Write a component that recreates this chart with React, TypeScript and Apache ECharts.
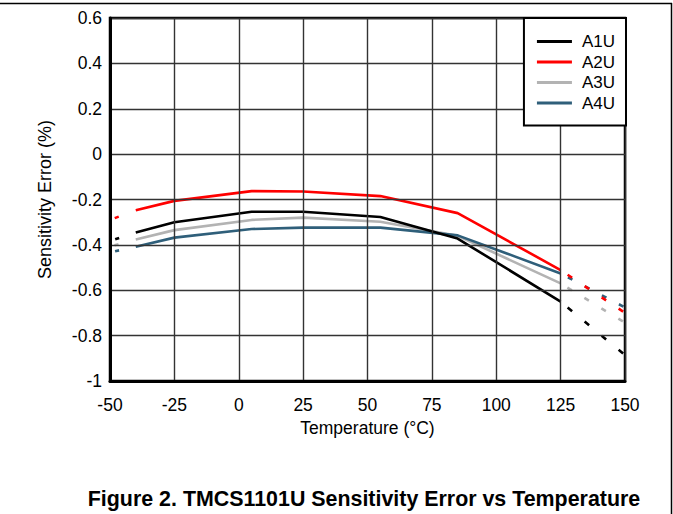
import React, { useEffect, useRef } from "react";
import * as echarts from "echarts";

const seriesNames = ["A1U", "A2U", "A3U", "A4U"];
const seriesColors = ["#000000", "#ff0000", "#b3b3b3", "#2f5f7a"];
const temps = [-40, -25, 5, 25, 55, 85, 125];
const a1u = [-0.345, -0.3, -0.254, -0.254, -0.277, -0.372, -0.65];
const a2u = [-0.247, -0.206, -0.163, -0.165, -0.185, -0.26, -0.511];
const a3u = [-0.376, -0.335, -0.29, -0.28, -0.298, -0.36, -0.57];
const a4u = [-0.408, -0.368, -0.33, -0.324, -0.324, -0.358, -0.526];
const tempsLow = [-50, -40];
const tempsHigh = [125, 150];
const lowValues = [
  [-0.383, -0.345],
  [-0.29, -0.247],
  [-0.407, -0.376],
  [-0.433, -0.408],
];
const highValues = [
  [-0.65, -0.886],
  [-0.511, -0.7],
  [-0.57, -0.743],
  [-0.526, -0.676],
];
const xTicks = { min: -50, max: 150, interval: 25 };
const yTicks = { min: -1, max: 0.6, interval: 0.2 };
const xTitle = "Temperature (°C)";
const yTitle = "Sensitivity Error (%)";
const caption = "Figure 2. TMCS1101U Sensitivity Error vs Temperature";

const FONT = '"Liberation Sans", Arial, sans-serif';

export default function App() {
  const ref = useRef<HTMLDivElement>(null);
  useEffect(() => {
    if (!ref.current) return;
    const chart = echarts.init(ref.current, undefined, { renderer: "svg" });
    const mainValues = [a1u, a2u, a3u, a4u];
    const zs = [5, 4, 2, 3];
    const series: any[] = [];
    seriesNames.forEach((name, i) => {
      series.push({
        name,
        type: "line",
        symbol: "none",
        z: zs[i],
        data: temps.map((t, k) => [t, mainValues[i][k]]),
        lineStyle: { color: seriesColors[i], width: 2.6 },
        itemStyle: { color: seriesColors[i] },
      });
    });
    seriesNames.forEach((name, i) => {
      series.push({
        id: "low" + i,
        name: name + "_low",
        type: "line",
        symbol: "none",
        z: zs[i],
        data: tempsLow.map((t, k) => [t, lowValues[i][k]]),
        lineStyle: { color: seriesColors[i], width: 2.6, type: [4, 36], dashOffset: 35 },
      });
      series.push({
        id: "high" + i,
        name: name + "_high",
        type: "line",
        symbol: "none",
        z: zs[i],
        data: tempsHigh.map((t, k) => [t, highValues[i][k]]),
        lineStyle: { color: seriesColors[i], width: 2.6, type: [4.5, 13], dashOffset: 10 },
      });
    });

    chart.setOption({
      animation: false,
      textStyle: { fontFamily: FONT },
      grid: {
        left: 110,
        top: 18,
        width: 515,
        height: 363,
        show: true,
        borderColor: "#000",
        borderWidth: 2.5,
        z: 10,
      },
      legend: {
        data: seriesNames,
        orient: "vertical",
        right: 47,
        top: 18,
        icon: "rect",
        itemWidth: 35,
        itemHeight: 3,
        itemGap: 3.5,
        padding: [15, 11, 14, 13],
        borderColor: "#000",
        borderWidth: 2,
        backgroundColor: "#fff",
        textStyle: { fontSize: 17, color: "#000", fontFamily: FONT, padding: [0, 0, 0, 5] },
        z: 20,
      },
      xAxis: {
        type: "value",
        min: xTicks.min,
        max: xTicks.max,
        interval: xTicks.interval,
        name: xTitle,
        nameLocation: "middle",
        nameGap: 33,
        nameTextStyle: { fontSize: 17.5, color: "#000", fontFamily: FONT },
        axisLine: { show: true, onZero: false, lineStyle: { color: "#000", width: 3 } },
        axisTick: { show: false },
        axisLabel: { fontSize: 17.5, color: "#000", margin: 15, fontFamily: FONT },
        splitLine: { show: true, lineStyle: { color: "#333333", width: 1.4 } },
        z: 10,
      },
      yAxis: {
        type: "value",
        min: yTicks.min,
        max: yTicks.max,
        interval: yTicks.interval,
        name: yTitle,
        nameLocation: "middle",
        nameGap: 56,
        nameTextStyle: { fontSize: 18, color: "#000", fontFamily: FONT },
        axisLine: { show: true, onZero: false, lineStyle: { color: "#000", width: 3 } },
        axisTick: { show: false },
        axisLabel: {
          fontSize: 17.5,
          color: "#000",
          margin: 8,
          fontFamily: FONT,
          formatter: (v: number) => String(Math.round(v * 10) / 10),
        },
        splitLine: { show: true, lineStyle: { color: "#333333", width: 1.4 } },
        z: 10,
      },
      graphic: [
        { type: "line", shape: { x1: 0, y1: 3.5, x2: 672, y2: 3.5 }, style: { stroke: "#000", lineWidth: 1.5 } },
        { type: "line", shape: { x1: 671.5, y1: 3, x2: 671.5, y2: 514 }, style: { stroke: "#000", lineWidth: 1.5 } },
        {
          type: "text",
          x: 364,
          y: 499,
          style: {
            text: caption,
            fontFamily: FONT,
            fontWeight: "bold",
            fontSize: 21.4,
            fill: "#000",
            align: "center",
            verticalAlign: "middle",
          },
        },
      ],
      series,
    });

    // adjust dash patterns so dashes fall like the reference
    const update: any[] = [];
    seriesNames.forEach((_n, i) => {
      const p1 = chart.convertToPixel({ gridIndex: 0 }, [tempsLow[0], lowValues[i][0]]) as number[];
      const p2 = chart.convertToPixel({ gridIndex: 0 }, [tempsLow[1], lowValues[i][1]]) as number[];
      const dxL = p2[0] - p1[0];
      const L = Math.hypot(p2[0] - p1[0], p2[1] - p1[1]);
      const s = (L * 5) / dxL;
      const periodL = L * 1.6;
      const dashL = (4 * L) / dxL;
      update.push({ id: "low" + i, lineStyle: { type: [dashL, periodL - dashL], dashOffset: periodL - s } });
      const q1 = chart.convertToPixel({ gridIndex: 0 }, [tempsHigh[0], highValues[i][0]]) as number[];
      const q2 = chart.convertToPixel({ gridIndex: 0 }, [tempsHigh[1], highValues[i][1]]) as number[];
      const dx = q2[0] - q1[0];
      const H = Math.hypot(q2[0] - q1[0], q2[1] - q1[1]);
      const period = (H * 17) / dx;
      const dash = (4.5 * H) / dx;
      const start = (H * 7) / dx;
      update.push({ id: "high" + i, lineStyle: { type: [dash, period - dash], dashOffset: period - start } });
    });
    chart.setOption({ series: update });

    return () => chart.dispose();
  }, []);
  return (
    <div
      ref={ref}
      style={{ position: "fixed", left: 0, top: 0, width: 673, height: 514, background: "#fff" }}
    />
  );
}
